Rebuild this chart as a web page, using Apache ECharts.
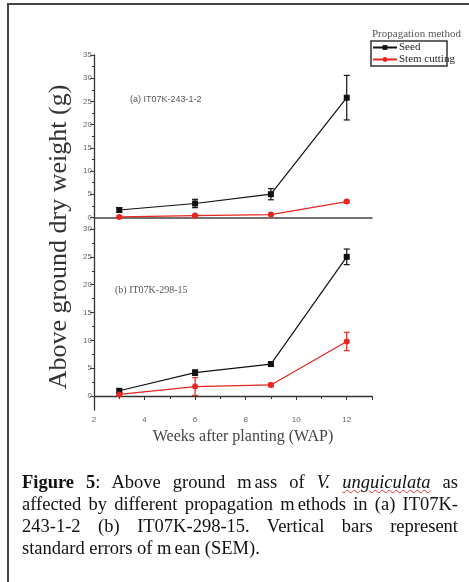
<!DOCTYPE html>
<html><head><meta charset="utf-8">
<script src="https://cdn.jsdelivr.net/npm/echarts@6/dist/echarts.min.js"></script>
<style>
html,body{margin:0;padding:0;background:#fff;}
#wrap{position:relative;width:469px;height:582px;overflow:hidden;background:#fff;}
#chart{position:absolute;left:0;top:0;width:469px;height:582px;}
#border{position:absolute;left:7px;top:3px;width:480px;height:600px;border-left:2px solid #444;border-top:2px solid #444;pointer-events:none;}
#cap{position:absolute;left:22px;top:471px;width:436px;font-family:"Liberation Serif","Times New Roman",serif;font-size:18.5px;line-height:22px;color:#111;}
#cap div{text-align:justify;text-align-last:justify;white-space:nowrap;}
#cap div.last{text-align-last:left;}
#cap .u{text-decoration:underline wavy #e03030;text-decoration-thickness:1px;}
#cap .g{margin-left:3px;}
</style></head>
<body>
<div id="wrap">
<div id="chart"></div>
<div id="border"></div>
<div id="cap">
<div><b>Figure 5</b>: Above ground m<span class="g">ass</span> of <i>V.</i> <i class="u">unguiculata</i> as</div>
<div>affected by different propagation m<span class="g">ethods</span> in (a) IT07K-</div>
<div>243-1-2 (b) IT07K-298-15. Vertical bars represent</div>
<div class="last">standard errors of m<span class="g">ean</span> (SEM).</div>
</div>
</div>
<script>
var weeks = [3, 6, 9, 12];
var seedA = [1.6, 3.0, 5.0, 25.8];
var seedA_sem = [0.5, 0.9, 1.2, 4.8];
var stemA = [0.1, 0.4, 0.6, 3.4];
var stemA_sem = [0.2, 0.2, 0.2, 0.3];
var seedB = [0.95, 4.2, 5.75, 25.0];
var seedB_sem = [0.3, 0.5, 0.3, 1.4];
var stemB = [0.3, 1.7, 2.0, 9.8];
var stemB_sem = [0.2, 1.6, 0.3, 1.65];
var xTicks = [2, 4, 6, 8, 10, 12];
var yTicksA = [0, 5, 10, 15, 20, 25, 30, 35];
var yMinorA = [2.5, 7.5, 12.5, 17.5, 22.5, 27.5, 32.5];
var yTicksB = [0, 5, 10, 15, 20, 25, 30];
var yMinorB = [2.5, 7.5, 12.5, 17.5, 22.5, 27.5];

var BLACK = '#111', RED = '#e8251f', AX = '#333';

function pts(vals){ return weeks.map(function(w,i){ return [w, vals[i]]; }); }
function errs(vals, sem){ return weeks.map(function(w,i){ return [w, vals[i]-sem[i], vals[i]+sem[i]]; }); }

function errRender(params, api){
  var x = api.value(0), lo = api.value(1), hi = api.value(2);
  var p1 = api.coord([x, hi]), p2 = api.coord([x, lo]);
  var w = 3;
  var st = {stroke: api.visual('color'), lineWidth: 1.2};
  return {type:'group', children:[
    {type:'line', shape:{x1:p1[0],y1:p1[1],x2:p2[0],y2:p2[1]}, style:st},
    {type:'line', shape:{x1:p1[0]-w,y1:p1[1],x2:p1[0]+w,y2:p1[1]}, style:st},
    {type:'line', shape:{x1:p2[0]-w,y1:p2[1],x2:p2[0]+w,y2:p2[1]}, style:st}
  ]};
}

var lblFont = {fontFamily:'Liberation Sans', fontSize:8, color:'#666'};

function mainY(grid, max, ticks){
  return {type:'value', gridIndex:grid, min:-2.5, max:max,
    axisLine:{show:true, lineStyle:{color:AX, width:1.3}},
    axisTick:{show:true, length:4, customValues:ticks, lineStyle:{color:AX}},
    axisLabel:Object.assign({show:true, margin:2, customValues:ticks}, lblFont),
    splitLine:{show:false}};
}
function minorY(grid, max, ticks){
  return {type:'value', gridIndex:grid, min:-2.5, max:max, position:'left',
    axisLine:{show:false},
    axisTick:{show:true, length:2, customValues:ticks, lineStyle:{color:AX}},
    axisLabel:{show:false, customValues:ticks},
    splitLine:{show:false}};
}

function lineS(name, color, sym, xi, yi, vals){
  return {type:'line', name:name, xAxisIndex:xi, yAxisIndex:yi, data:pts(vals),
    symbol:sym, symbolSize:6, z:5,
    lineStyle:{color:color, width:1.2}, itemStyle:{color:color}};
}
function errS(color, xi, yi, vals, sem){
  return {type:'custom', name:'err', xAxisIndex:xi, yAxisIndex:yi, data:errs(vals, sem),
    renderItem:errRender, itemStyle:{color:color}, encode:{x:0, y:[1,2]}, z:4};
}

var chart = echarts.init(document.getElementById('chart'), null, {renderer:'canvas'});
chart.setOption({
  animation:false,
  backgroundColor:'transparent',
  grid:[
    {left:94, top:55, width:278, height:174},
    {left:94, top:229, width:278, height:181}
  ],
  xAxis:[
    {type:'value', gridIndex:0, min:2, max:13,
      axisLine:{show:true, lineStyle:{color:'#444', width:1.5}},
      axisTick:{show:false}, axisLabel:{show:false}, splitLine:{show:false}},
    {type:'value', gridIndex:1, min:2, max:13, interval:2,
      axisLine:{show:true, lineStyle:{color:AX, width:1.3}},
      axisTick:{show:true, length:4, inside:false, lineStyle:{color:AX}},
      minorTick:{show:true, splitNumber:2, length:3, lineStyle:{color:AX}},
      axisLabel:Object.assign({show:true, margin:6, customValues:xTicks}, lblFont),
      splitLine:{show:false}}
  ],
  yAxis:[
    mainY(0, 35, yTicksA), minorY(0, 35, yMinorA),
    mainY(1, 30, yTicksB), minorY(1, 30, yMinorB)
  ],
  legend:{
    data:['Seed','Stem cutting'], orient:'vertical', left:372, top:42,
    itemWidth:24, itemHeight:6, itemGap:1, padding:0,
    textStyle:{fontFamily:'Liberation Serif', fontSize:11, color:'#222', padding:[0,0,0,-3]}
  },
  graphic:[
    {type:'rect', shape:{x:371, y:41, width:76, height:25}, style:{fill:'none', stroke:'#333', lineWidth:1.5}},
    {type:'text', left:372, top:29, style:{text:'Propagation method', font:'11px "Liberation Serif"', fill:'#555'}},
    {type:'text', left:130, top:95, style:{text:'(a) IT07K-243-1-2', font:'9px "Liberation Sans"', fill:'#555'}},
    {type:'text', left:115, top:285, style:{text:'(b) IT07K-298-15', font:'10px "Liberation Serif"', fill:'#555'}},
    {type:'text', x:59, y:237, rotation:Math.PI/2,
      style:{text:'Above ground dry weight (g)', font:'26px "Liberation Serif"', fill:'#333', textAlign:'center', textVerticalAlign:'middle'}},
    {type:'text', x:243, y:437,
      style:{text:'Weeks after planting (WAP)', font:'16px "Liberation Serif"', fill:'#444', textAlign:'center', textVerticalAlign:'middle'}}
  ],
  series:[
    errS(BLACK, 0, 0, seedA, seedA_sem),
    errS(RED, 0, 0, stemA, stemA_sem),
    errS(BLACK, 1, 2, seedB, seedB_sem),
    errS(RED, 1, 2, stemB, stemB_sem),
    lineS('Seed', BLACK, 'rect', 0, 0, seedA),
    lineS('Stem cutting', RED, 'circle', 0, 0, stemA),
    lineS('Seed', BLACK, 'rect', 1, 2, seedB),
    lineS('Stem cutting', RED, 'circle', 1, 2, stemB)
  ]
});
</script>
</body></html>
